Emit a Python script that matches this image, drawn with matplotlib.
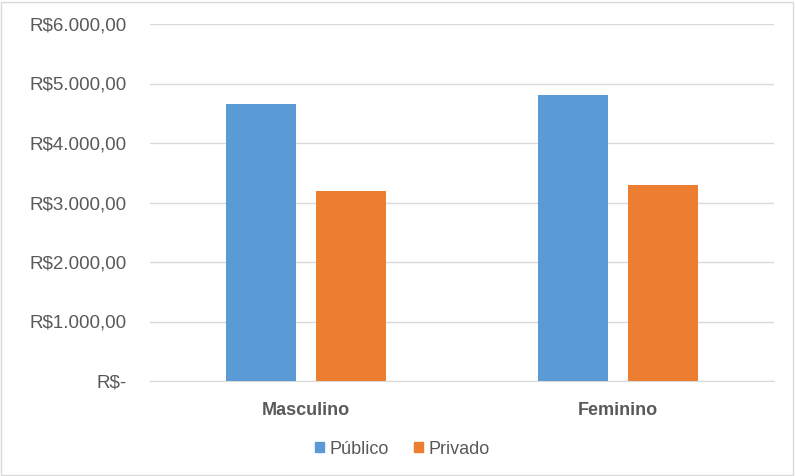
import matplotlib
matplotlib.use("Agg")
import matplotlib.pyplot as plt
from matplotlib.patches import Rectangle
from matplotlib.ticker import FuncFormatter
import numpy as np

plt.rcParams['font.family'] = ['Liberation Sans', 'DejaVu Sans']

categories = ["Masculino", "Feminino"]
series_names = ["Público", "Privado"]
publico = [4650, 4810]
privado = [3190, 3290]
y_ticks = [0, 1000, 2000, 3000, 4000, 5000, 6000]

colors = ["#5B9BD5", "#ED7D31"]
text_color = "#595959"

W, H = 795, 476
fig = plt.figure(figsize=(W / 100, H / 100), dpi=100)
ax = fig.add_axes([150 / W, 1 - 381 / H, 624 / W, 357 / H])

x = np.arange(len(categories))
bw = 0.224
off = 0.144
ax.bar(x - off, publico, bw, color=colors[0], zorder=3)
ax.bar(x + off, privado, bw, color=colors[1], zorder=3)

ax.set_xlim(-0.5, 1.5)
ax.set_ylim(0, 6000)
ax.set_yticks(y_ticks)


def brl(v, _):
    if v == 0:
        return "R$-"
    s = f"{v:,.2f}"
    s = s.replace(",", "X").replace(".", ",").replace("X", ".")
    return "R$" + s


ax.yaxis.set_major_formatter(FuncFormatter(brl))
ax.grid(axis='y', color="#D9D9D9", linewidth=1, zorder=0)
for s in ["top", "right", "left"]:
    ax.spines[s].set_visible(False)
ax.spines["bottom"].set_color("#D9D9D9")
ax.tick_params(axis='y', length=0, pad=17, labelsize=13.5, labelcolor=text_color)
ax.tick_params(axis='x', length=0, pad=15, labelsize=13, labelcolor=text_color)
ax.set_xticks(x)
ax.set_xticklabels(categories, fontweight='bold')

handles = [Rectangle((0, 0), 1, 1, color=c) for c in colors]
fig.legend(handles, series_names, loc='center', bbox_to_anchor=(402 / W, 1 - 449 / H),
           ncol=2, frameon=False, fontsize=13, labelcolor=text_color,
           handlelength=0.5, handleheight=0.5, handletextpad=0.3, columnspacing=1.4)

# chart frame
fig.patches.append(Rectangle((1 / W, 1 / H), 1 - 3 / W, 1 - 3 / H, transform=fig.transFigure,
                             fill=False, edgecolor="#D9D9D9", linewidth=1))

fig.savefig("out.png", dpi=100, facecolor="white")
